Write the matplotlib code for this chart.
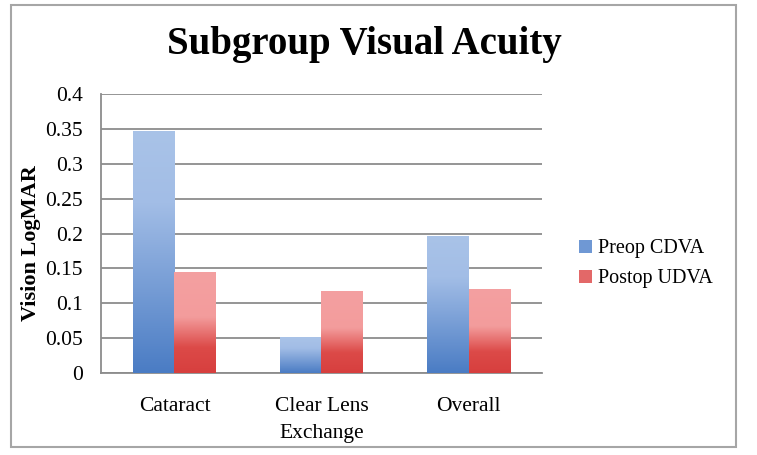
import numpy as np
import matplotlib
matplotlib.use('Agg')
import matplotlib.pyplot as plt
from matplotlib.colors import LinearSegmentedColormap
from matplotlib.patches import Rectangle

# Data
categories = ['Cataract', 'Clear Lens\nExchange', 'Overall']
preop_cdva = [0.347, 0.051, 0.196]
postop_udva = [0.145, 0.117, 0.121]
series_names = ['Preop CDVA', 'Postop UDVA']
yticks = [0, 0.05, 0.1, 0.15, 0.2, 0.25, 0.3, 0.35, 0.4]
ytick_labels = ['0', '0.05', '0.1', '0.15', '0.2', '0.25', '0.3', '0.35', '0.4']

plt.rcParams['font.family'] = ['Liberation Serif', 'DejaVu Serif']

# Gradients: index 0 = top of bar, 1 = bottom
blue_cmap = LinearSegmentedColormap.from_list(
    'blue_grad', [(0.0, '#a9c3e8'), (0.3, '#a2bde6'), (1.0, '#4a7cc4')])
red_cmap = LinearSegmentedColormap.from_list(
    'red_grad', [(0.0, '#f4a0a1'), (0.45, '#f39c9c'), (0.75, '#dc4a48'), (1.0, '#d73f3e')])

fig = plt.figure(figsize=(7.57, 4.55), dpi=100)
ax = fig.add_axes([0.1334, 0.1802, 0.5826, 0.6132])

x = np.arange(len(categories))
width = 0.285

grad = np.linspace(0, 1, 256).reshape(-1, 1)


def gradient_bars(xpos, vals, cmap):
    bars = ax.bar(xpos, vals, width, color='none', edgecolor='none', zorder=3)
    for b in bars:
        x0, y0 = b.get_x(), b.get_y()
        w, h = b.get_width(), b.get_height()
        im = ax.imshow(grad, cmap=cmap, aspect='auto', extent=[x0, x0 + w, y0, y0 + h],
                       origin='upper', zorder=3, interpolation='bicubic')
        im.set_clip_path(b)
    return bars


gradient_bars(x - width / 2, preop_cdva, blue_cmap)
gradient_bars(x + width / 2, postop_udva, red_cmap)

ax.set_xlim(-0.5, len(categories) - 0.5)
ax.set_ylim(0, 0.4)
ax.set_yticks(yticks)
ax.set_yticklabels(ytick_labels)
ax.set_xticks(x)
ax.set_xticklabels(categories)
ax.tick_params(axis='both', length=0, labelsize=15.5)
ax.tick_params(axis='y', pad=13)
ax.tick_params(axis='x', pad=17)
for lbl in ax.get_xticklabels():
    lbl.set_linespacing(1.6)

ax.grid(axis='y', color='#8c8c8c', linewidth=1.3, zorder=0)
ax.set_axisbelow(True)
for s in ['top', 'right']:
    ax.spines[s].set_visible(False)
for s in ['left', 'bottom']:
    ax.spines[s].set_color('#8c8c8c')
    ax.spines[s].set_linewidth(1.3)

# Title and y label
fig.text(0.482, 0.902, 'Subgroup Visual Acuity', ha='center', va='center',
         fontsize=28, fontweight='bold')
fig.text(0.041, 0.466, 'Vision LogMAR', rotation=90, ha='center', va='center',
         fontsize=16, fontweight='bold')

# Legend
handles = [Rectangle((0, 0), 1, 1, facecolor='#6f98d4', edgecolor='none'),
           Rectangle((0, 0), 1, 1, facecolor='#e36868', edgecolor='none')]
fig.legend(handles, series_names, loc='center left', bbox_to_anchor=(0.751, 0.420),
           frameon=False, fontsize=14.5, handlelength=0.65, handleheight=0.65,
           handletextpad=0.3, labelspacing=0.55, borderpad=0)

# Outer border
fig.patches.append(Rectangle((0.0145, 0.0176), 0.9577, 0.9714, transform=fig.transFigure,
                             fill=False, edgecolor='#a6a6a6', linewidth=1.5))

fig.savefig('out.png', dpi=100)
